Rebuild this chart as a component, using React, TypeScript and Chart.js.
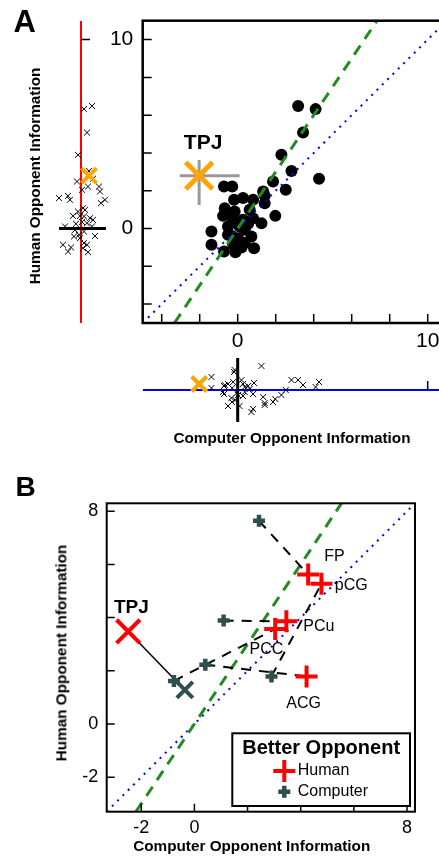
import React, { useEffect, useRef } from 'react';
import { Chart, registerables } from 'chart.js';

Chart.register(...registerables);

const FONT = '"Liberation Sans", Arial, Helvetica, sans-serif';
const ORANGE = '#FFA500';
const GRAY = '#999999';
const RED = '#FF0000';
const SLATE = '#2F4F4F';
const GREEN = '#228B22';
const BLUE = '#0000FF';

// ---------------- Panel A data ----------------
const computerInfoA = [3.18, 4.10, 3.44, 2.30, 2.83, 4.28, 1.86, 2.53, -0.72, -0.29, 1.42, 1.42, 0.81, 0.28, -0.19, -0.68, 1.98, -0.77, 1.25, 0.81, -0.33, -1.38, -1.38, -0.72, -0.12, 0.86, 0.72, 0.10, -0.51, -0.51, 0.02, 0.37, 0.37, -0.16, 0.28, -0.24, 0.63, 1.34, -0.30, 0.55, 0.20, -0.05];
const humanInfoA = [6.49, 6.32, 5.08, 3.90, 3.05, 2.63, 2.49, 2.05, 2.22, 2.22, 1.73, 1.34, 1.52, 1.61, 1.52, 1.08, 0.67, 0.67, 0.28, 0.55, 0.64, -0.16, -0.86, -1.22, -1.25, -1.04, -0.42, 0.11, 0.11, -0.33, -0.51, -0.77, -0.07, 0.90, 0.46, -0.86, 0.99, 1.96, -0.40, 0.25, -1.00, 0.35];
// marginal jitter offsets (pixels)
const jitterLeftA = [11, 3, 6, -3, 8, 12, -4, 1, 18, 7, -13, 20, -11, -22, 24, 2, -8, -1, 6, 9, 3, 3, -18, -13, 7, 2, -7, -16, 11, -2, -1, 3, -6, -3, 12, 6, 4, 19, 14, -5, -10, 1];
const jitterBottomA = [10, 3, 5, -5, 10, 8, -12, 0, -4, 2, -13, -15, -4, 6, 18, 5, -9, -2, 24, -19, -8, 13, 2, 4, -10, 7, -22, -16, -16, 6, -5, 3, -2, 20, -6, 8, 1, -7, -12, 4, 10, -3];

const tpjA = [-2.03, 2.8];
const tpjErrXA = [-3.05, 0.1];
const tpjErrYA = [1.25, 3.63];
const tpjJitterA = [8, 6]; // left marginal, bottom marginal
const tpjLabelA = [-1.82, 4.52];

const rangeA = [-5, 11];
const ticksA = [-4, -2, 0, 2, 4, 6, 8, 10];
const labeledTicksA = [0, 10];
const marginalTicksA = [0, 10];
const identityLineA = [-5, 11];
const slopeLineXA = [-3.33, 7.33];
const slopeLineYA = [-5, 11];
const leftMeanLineA = [-22, 25];
const bottomMeanLineA = [-32, 32];

// ---------------- Panel B data ----------------
const regionsB = ['FP', 'pCG', 'PCu', 'PCC', 'ACG'];
const humanXB = [4.28, 4.78, 3.46, 3.04, 4.22];
const humanYB = [5.62, 5.27, 3.86, 3.57, 1.79];
const computerXB = [2.43, 2.90, 1.10, -0.77, 0.41];
const computerYB = [7.64, 1.79, 3.89, 1.62, 2.23];
const regionLabelXB = [5.27, 5.90, 4.68, 2.71, 4.11];
const regionLabelYB = [6.31, 5.22, 3.67, 2.79, 0.78];
const tpjHumanB = [-2.49, 3.48];
const tpjComputerB = [-0.36, 1.28];
const tpjLabelB = [-2.37, 4.38];

const rangeB = [-3.3, 8.3];
const ticksB = [-2, 0, 2, 4, 6, 8];
const labeledTicksB = [-2, 0, 8];
const identityLineB = [-3.3, 8.3];
const slopeLineXB = [-2.2, 5.533];
const slopeLineYB = [-3.3, 8.3];

// ---------------- helpers ----------------
const pts = (xs: number[], ys: number[]) => xs.map((x, i) => ({ x, y: ys[i] }));

function lineDs(data: any[], color: string, width: number, dash: number[] = []) {
  return {
    data,
    showLine: true,
    borderColor: color,
    borderWidth: width,
    borderDash: dash,
    pointRadius: 0,
    pointHoverRadius: 0,
    fill: false,
    tension: 0,
  };
}

function framePlugin(xTicks: number[], yTicks: number[], lineWidth: number, tickLen: number) {
  return {
    id: 'frame',
    afterDatasetsDraw(chart: any) {
      const { ctx, chartArea: a, scales } = chart;
      ctx.save();
      ctx.strokeStyle = '#000';
      ctx.lineWidth = lineWidth;
      ctx.strokeRect(a.left, a.top, a.right - a.left, a.bottom - a.top);
      ctx.lineWidth = 1.5;
      ctx.beginPath();
      xTicks.forEach((v) => {
        const px = scales.x.getPixelForValue(v);
        ctx.moveTo(px, a.bottom);
        ctx.lineTo(px, a.bottom - tickLen);
      });
      yTicks.forEach((v) => {
        const py = scales.y.getPixelForValue(v);
        ctx.moveTo(a.left, py);
        ctx.lineTo(a.left + tickLen, py);
      });
      ctx.stroke();
      ctx.restore();
    },
  };
}

type TextItem = { text: string; x: number; y: number; font: string; align?: string };
function textPlugin(items: TextItem[]) {
  return {
    id: 'texts',
    afterDatasetsDraw(chart: any) {
      const { ctx, scales } = chart;
      ctx.save();
      ctx.fillStyle = '#000';
      ctx.textBaseline = 'middle';
      items.forEach((it) => {
        ctx.font = it.font;
        ctx.textAlign = it.align || 'center';
        ctx.fillText(it.text, scales.x.getPixelForValue(it.x), scales.y.getPixelForValue(it.y));
      });
      ctx.restore();
    },
  };
}

function marginTickPlugin(values: number[], vertical: boolean) {
  return {
    id: 'mticks',
    afterDatasetsDraw(chart: any) {
      const { ctx, scales } = chart;
      ctx.save();
      ctx.strokeStyle = '#000';
      ctx.lineWidth = 1.5;
      ctx.beginPath();
      values.forEach((v) => {
        if (vertical) {
          const x0 = scales.x.getPixelForValue(0);
          const py = scales.y.getPixelForValue(v);
          ctx.moveTo(x0, py);
          ctx.lineTo(x0 + 9, py);
        } else {
          const y0 = scales.y.getPixelForValue(0);
          const px = scales.x.getPixelForValue(v);
          ctx.moveTo(px, y0);
          ctx.lineTo(px, y0 - 9);
        }
      });
      ctx.stroke();
      ctx.restore();
    },
  };
}

const legendPluginB = {
  id: 'legendB',
  afterDatasetsDraw(chart: any) {
    const { ctx, chartArea: a } = chart;
    const w = 177.7;
    const h = 72.7;
    const x0 = a.right - 5 - w;
    const y0 = a.bottom - 5.7 - h;
    ctx.save();
    ctx.fillStyle = '#fff';
    ctx.fillRect(x0, y0, w, h);
    ctx.strokeStyle = '#000';
    ctx.lineWidth = 2;
    ctx.strokeRect(x0, y0, w, h);
    ctx.fillStyle = '#000';
    ctx.textBaseline = 'middle';
    ctx.textAlign = 'center';
    ctx.font = `bold 20px ${FONT}`;
    ctx.fillText('Better Opponent', x0 + w / 2, y0 + 15);
    const rows = [
      { label: 'Human', color: RED, r: 11, lw: 4, cy: y0 + 37.7 },
      { label: 'Computer', color: SLATE, r: 6, lw: 4.5, cy: y0 + 58.4 },
    ];
    rows.forEach((row) => {
      const cx = x0 + 52;
      ctx.strokeStyle = row.color;
      ctx.lineWidth = row.lw;
      ctx.beginPath();
      ctx.moveTo(cx - row.r, row.cy);
      ctx.lineTo(cx + row.r, row.cy);
      ctx.moveTo(cx, row.cy - row.r);
      ctx.lineTo(cx, row.cy + row.r);
      ctx.stroke();
      ctx.font = `16px ${FONT}`;
      ctx.textAlign = 'left';
      ctx.fillStyle = '#000';
      ctx.fillText(row.label, x0 + 65.5, row.cy);
    });
    ctx.restore();
  },
};

const hiddenScale = (min: number, max: number) => ({ type: 'linear', min, max, display: false });

function axisScale(min: number, max: number, ticks: number[], labeled: number[], size: number, pad: number, fit: (s: any) => void) {
  return {
    type: 'linear',
    min,
    max,
    afterBuildTicks: (s: any) => {
      s.ticks = ticks.map((v) => ({ value: v }));
    },
    afterFit: (s: any) => {
      fit(s);
      s.paddingTop = 0;
      s.paddingBottom = 0;
      s.paddingLeft = 0;
      s.paddingRight = 0;
    },
    grid: { display: false, drawTicks: false },
    border: { display: false },
    ticks: {
      autoSkip: false,
      maxRotation: 0,
      minRotation: 0,
      padding: pad,
      color: '#000',
      font: { family: FONT, size },
      callback: (v: number) => (labeled.includes(v) ? String(v) : ''),
    },
  };
}

const baseOptions = (padding: any) => ({
  responsive: false,
  animation: false,
  events: [],
  layout: { padding, autoPadding: false },
  plugins: { legend: { display: false }, tooltip: { enabled: false } },
});

// ---------------- chart configs ----------------
function mainAConfig() {
  return {
    type: 'scatter',
    data: {
      datasets: [
        { data: [{ x: tpjA[0], y: tpjA[1] }], pointStyle: 'crossRot', pointRadius: 19, borderColor: ORANGE, borderWidth: 5, clip: false },
        lineDs([{ x: tpjErrXA[0], y: tpjA[1] }, { x: tpjErrXA[1], y: tpjA[1] }], GRAY, 3),
        lineDs([{ x: tpjA[0], y: tpjErrYA[0] }, { x: tpjA[0], y: tpjErrYA[1] }], GRAY, 3),
        lineDs(pts(slopeLineXA, slopeLineYA), GREEN, 3, [11, 8]),
        lineDs(pts(identityLineA, identityLineA), BLUE, 2, [2, 5.5]),
        { data: pts(computerInfoA, humanInfoA), pointStyle: 'circle', pointRadius: 6, backgroundColor: '#000', borderWidth: 0 },
      ],
    },
    options: {
      ...baseOptions({ left: 0, top: 5.7, right: 13.3, bottom: 0 }),
      scales: {
        x: axisScale(rangeA[0], rangeA[1], ticksA, labeledTicksA, 21, 6, (s: any) => { s.height = 37; }),
        y: axisScale(rangeA[0], rangeA[1], ticksA, labeledTicksA, 21, 9.4, (s: any) => { s.width = 52.7; }),
      },
    },
    plugins: [
      framePlugin(ticksA, ticksA, 2.5, 9),
      textPlugin([{ text: 'TPJ', x: tpjLabelA[0], y: tpjLabelA[1], font: `bold 21px ${FONT}` }]),
    ],
  };
}

function leftMarginalConfig() {
  return {
    type: 'scatter',
    data: {
      datasets: [
        { data: [{ x: tpjJitterA[0], y: tpjA[1] }], pointStyle: 'crossRot', pointRadius: 10.6, borderColor: ORANGE, borderWidth: 4, clip: false },
        lineDs(pts(leftMeanLineA, [0, 0]), '#000', 3),
        { data: pts(jitterLeftA, humanInfoA), pointStyle: 'crossRot', pointRadius: 4.2, borderColor: '#000', borderWidth: 1, clip: false },
        lineDs(pts([0, 0], rangeA), RED, 2),
      ],
    },
    options: {
      ...baseOptions({ left: 15, top: 5.7, right: 13, bottom: 7 }),
      scales: { x: hiddenScale(-26, 26), y: hiddenScale(rangeA[0], rangeA[1]) },
    },
    plugins: [marginTickPlugin(marginalTicksA, true)],
  };
}

function bottomMarginalConfig() {
  return {
    type: 'scatter',
    data: {
      datasets: [
        { data: [{ x: tpjA[0], y: tpjJitterA[1] }], pointStyle: 'crossRot', pointRadius: 10.6, borderColor: ORANGE, borderWidth: 4, clip: false },
        lineDs(pts([0, 0], bottomMeanLineA), '#000', 3),
        { data: pts(computerInfoA, jitterBottomA), pointStyle: 'crossRot', pointRadius: 4.2, borderColor: '#000', borderWidth: 1, clip: false },
        lineDs(pts(rangeA, [0, 0]), BLUE, 2),
      ],
    },
    options: {
      ...baseOptions({ left: 52.7, top: 5, right: 13.3, bottom: 5 }),
      scales: { x: hiddenScale(rangeA[0], rangeA[1]), y: hiddenScale(-35, 35) },
    },
    plugins: [marginTickPlugin(marginalTicksA, false)],
  };
}

function panelBConfig() {
  const connections = regionsB.map((_, i) =>
    lineDs([{ x: computerXB[i], y: computerYB[i] }, { x: humanXB[i], y: humanYB[i] }], '#000', 2, [10, 8])
  );
  const labels: TextItem[] = regionsB.map((r, i) => ({ text: r, x: regionLabelXB[i], y: regionLabelYB[i], font: `16px ${FONT}` }));
  labels.push({ text: 'TPJ', x: tpjLabelB[0], y: tpjLabelB[1], font: `bold 19px ${FONT}` });
  return {
    type: 'scatter',
    data: {
      datasets: [
        { data: pts(humanXB, humanYB), pointStyle: 'cross', pointRadius: 11, borderColor: RED, borderWidth: 4, clip: false },
        { data: pts(computerXB, computerYB), pointStyle: 'cross', pointRadius: 6, borderColor: SLATE, borderWidth: 4.5, clip: false },
        { data: [{ x: tpjHumanB[0], y: tpjHumanB[1] }], pointStyle: 'crossRot', pointRadius: 16.5, borderColor: RED, borderWidth: 4, clip: false },
        { data: [{ x: tpjComputerB[0], y: tpjComputerB[1] }], pointStyle: 'crossRot', pointRadius: 11.3, borderColor: SLATE, borderWidth: 4, clip: false },
        lineDs([{ x: tpjHumanB[0], y: tpjHumanB[1] }, { x: tpjComputerB[0], y: tpjComputerB[1] }], '#000', 1.5),
        ...connections,
        lineDs(pts(slopeLineXB, slopeLineYB), GREEN, 3, [11, 8]),
        lineDs(pts(identityLineB, identityLineB), BLUE, 2, [2, 5.5]),
      ],
    },
    options: {
      ...baseOptions({ left: 0, top: 13.3, right: 15, bottom: 0 }),
      scales: {
        x: axisScale(rangeB[0], rangeB[1], ticksB, labeledTicksB, 18, 6, (s: any) => { s.height = 44.3; }),
        y: axisScale(rangeB[0], rangeB[1], ticksB, labeledTicksB, 18, 8.4, (s: any) => { s.width = 66.7; }),
      },
    },
    plugins: [framePlugin(ticksB, ticksB, 2, 8), textPlugin(labels), legendPluginB],
  };
}

// ---------------- components ----------------
function ChartCanvas({ left, top, width, height, make }: any) {
  const ref = useRef<HTMLCanvasElement | null>(null);
  useEffect(() => {
    if (!ref.current) return;
    const chart = new Chart(ref.current, make());
    return () => chart.destroy();
  }, []);
  return (
    <canvas
      ref={ref}
      width={width}
      height={height}
      style={{ position: 'absolute', left, top, width, height }}
    />
  );
}

function Label({ text, x, y, size, bold = true, rotate = false }: any) {
  return (
    <div
      style={{
        position: 'absolute',
        left: x,
        top: y,
        transform: `translate(-50%, -50%)${rotate ? ' rotate(-90deg)' : ''}`,
        fontFamily: FONT,
        fontSize: size,
        fontWeight: bold ? 'bold' : 'normal',
        lineHeight: 1,
        whiteSpace: 'nowrap',
        color: '#000',
      }}
    >
      {text}
    </div>
  );
}

export default function App() {
  return (
    <div
      style={{
        position: 'fixed',
        left: 0,
        top: 0,
        width: 439,
        height: 856,
        overflow: 'hidden',
        background: '#fff',
      }}
    >
      <ChartCanvas left={90} top={15} width={370} height={345} make={mainAConfig} />
      <ChartCanvas left={40} top={15} width={80} height={315} make={leftMarginalConfig} />
      <ChartCanvas left={90} top={350} width={370} height={80} make={bottomMarginalConfig} />
      <ChartCanvas left={40} top={490} width={390} height={366} make={panelBConfig} />

      <Label text="A" x={24.7} y={21} size={31} />
      <Label text="Human Opponent Information" x={34.5} y={176} size={15.3} rotate />
      <Label text="Computer Opponent Information" x={292} y={438.3} size={15.3} />

      <Label text="B" x={25.5} y={486.7} size={28} />
      <Label text="Human Opponent Information" x={61} y={652.5} size={15.3} rotate />
      <Label text="Computer Opponent Information" x={251.7} y={846} size={15.3} />
    </div>
  );
}
